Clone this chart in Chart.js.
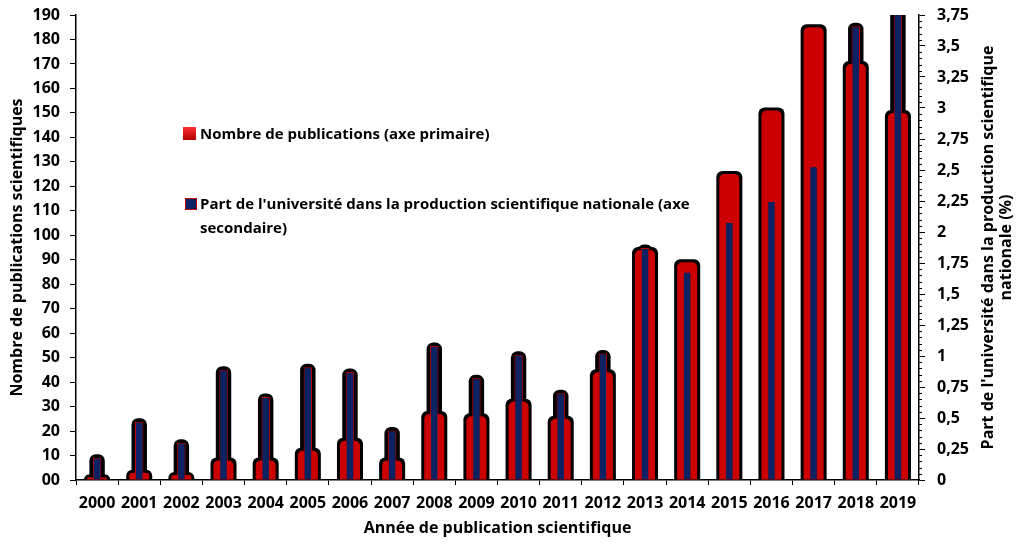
<!DOCTYPE html>
<html lang="fr">
<head>
<meta charset="utf-8">
<title>Publications scientifiques 2000-2019</title>
<script src="https://cdn.jsdelivr.net/npm/chart.js@4.4.1/dist/chart.umd.min.js"></script>
<style>
    html, body { margin: 0; padding: 0; background: #fff; }
    #wrap { position: relative; width: 1019px; height: 544px; }
    #legend { position: absolute; left: 183px; top: 0; font: bold 15px "Open Sans", sans-serif; color: #000; }
    #legend .item { position: absolute; white-space: nowrap; line-height: 24px; }
    #legend .sw { position: absolute; display: block; }
    #legend .red { width: 13px; height: 13px; background: linear-gradient(#ff3030, #b00000); }
    #legend .blue { width: 10px; height: 10px; background: #0d2263; border: 1px solid #c00000; }
</style>
</head>
<body>
<div id="wrap">
    <canvas id="pubChart"></canvas>
    <div id="legend">
        <div class="item" style="top:121px; left:0;">
            <span class="sw red" style="left:0; top:6px;"></span>
            <span style="padding-left:17px;">Nombre de publications (axe primaire)</span>
        </div>
        <div class="item" style="top:191px; left:0;">
            <span class="sw blue" style="left:2px; top:7px;"></span>
            <span style="display:inline-block; padding-left:17px;">Part de l'université dans la production scientifique nationale (axe<br>secondaire)</span>
        </div>
    </div>
</div>
<script>
const years = ['2000', '2001', '2002', '2003', '2004', '2005', '2006', '2007', '2008', '2009',
               '2010', '2011', '2012', '2013', '2014', '2015', '2016', '2017', '2018', '2019'];
const publications = [1, 3, 2, 8, 8, 12, 16, 8, 27, 26, 32, 25, 44, 94, 89, 125, 151, 185, 170, 150];
const partNationale = [0.18, 0.47, 0.30, 0.89, 0.67, 0.91, 0.87, 0.40, 1.08, 0.82,
                       1.01, 0.70, 1.02, 1.87, 1.68, 2.08, 2.25, 2.53, 3.66, 3.8];
const primaryMax = 190;
const primaryStep = 10;
const secondaryMax = 3.75;
const secondaryStep = 0.25;
const secondaryMinorStep = 0.05;

const rightTitle = ["Part de l'université dans la production scientifique", 'nationale (%)'];

Chart.defaults.font.family = '"Open Sans", sans-serif';
Chart.defaults.font.weight = 'bold';
Chart.defaults.color = '#000';

// black halo behind every bar, drawn before the fills
const barHalo = {
    id: 'barHalo',
    beforeDatasetsDraw(chart) {
        const ctx = chart.ctx;
        const area = chart.chartArea;
        ctx.save();
        ctx.beginPath();
        ctx.rect(area.left, area.top, area.right - area.left, area.bottom - area.top);
        ctx.clip();
        ctx.fillStyle = '#000';
        chart.data.datasets.forEach((ds, i) => {
            const h = ds.halo;
            chart.getDatasetMeta(i).data.forEach(bar => {
                const p = bar.getProps(['x', 'y', 'base', 'width'], true);
                ctx.beginPath();
                ctx.roundRect(p.x - p.width / 2 - h, p.y - h, p.width + 2 * h, p.base - p.y + h, [h + 3, h + 3, 0, 0]);
                ctx.fill();
            });
        });
        ctx.restore();
    }
};

// minor ticks of the secondary axis and its title (reads bottom to top)
const rightAxisExtras = {
    id: 'rightAxisExtras',
    afterDraw(chart) {
        const ctx = chart.ctx;
        const s = chart.scales.y2;
        ctx.save();
        ctx.strokeStyle = '#000';
        ctx.lineWidth = 1;
        for (let k = 0; k * secondaryMinorStep <= secondaryMax + 1e-9; k++) {
            if (k % 5 === 0) continue;
            const py = Math.round(s.getPixelForValue(k * secondaryMinorStep)) + 0.5;
            ctx.beginPath();
            ctx.moveTo(s.left, py);
            ctx.lineTo(s.left + 3, py);
            ctx.stroke();
        }
        const cy = (chart.chartArea.top + chart.chartArea.bottom) / 2;
        ctx.translate(s.right - 31, cy);
        ctx.rotate(-Math.PI / 2);
        ctx.fillStyle = '#000';
        ctx.font = 'bold 16px "Open Sans", sans-serif';
        ctx.textAlign = 'center';
        ctx.textBaseline = 'middle';
        ctx.fillText(rightTitle[0], 0, 0);
        ctx.fillText(rightTitle[1], 0, 18);
        ctx.restore();
    }
};

const fitVertical = width => s => {
    s.width = width;
    s.paddingTop = 0;
    s.paddingBottom = 0;
};

const ctxPub = document.getElementById('pubChart').getContext('2d');
new Chart(ctxPub, {
    type: 'bar',
    data: {
        labels: years,
        datasets: [{
            label: 'Nombre de publications (axe primaire)',
            data: publications,
            yAxisID: 'y',
            backgroundColor: '#cc0000',
            borderWidth: 0,
            borderRadius: { topLeft: 5, topRight: 5 },
            barPercentage: 0.475,
            categoryPercentage: 1,
            halo: 3,
            order: 2,
            clip: 0
        }, {
            label: "Part de l'université dans la production scientifique nationale (axe secondaire)",
            data: partNationale,
            yAxisID: 'y2',
            backgroundColor: '#0d2263',
            borderColor: '#c00000',
            borderWidth: { left: 1, right: 1, top: 1 },
            barPercentage: 0.2,
            categoryPercentage: 1,
            halo: 3.5,
            order: 1,
            clip: 0
        }]
    },
    options: {
        responsive: true,
        maintainAspectRatio: false,
        animation: false,
        layout: { padding: { top: 15 } },
        datasets: { bar: { grouped: false } },
        plugins: {
            legend: { display: false },
            tooltip: { enabled: false }
        },
        scales: {
            x: {
                grid: { offset: true, drawOnChartArea: false, tickLength: 5, color: '#000' },
                border: { color: '#000', width: 1.5 },
                ticks: { font: { size: 16 }, padding: 9, maxRotation: 0 },
                title: { display: true, text: 'Année de publication scientifique', font: { size: 16 }, padding: { top: 0, bottom: 6 } },
                afterFit: s => { s.height = 64; }
            },
            y: {
                position: 'left',
                min: 0,
                max: primaryMax,
                grid: { drawOnChartArea: false, tickLength: 6, color: '#000' },
                border: { color: '#000', width: 1.5 },
                ticks: {
                    stepSize: primaryStep,
                    font: { size: 16 },
                    padding: 10,
                    callback: v => v === 0 ? '00' : v
                },
                title: { display: true, text: 'Nombre de publications scientifiques', font: { size: 16 }, padding: { top: 8, bottom: 0 } },
                afterFit: fitVertical(76)
            },
            y2: {
                position: 'right',
                min: 0,
                max: secondaryMax,
                grid: { drawOnChartArea: false, tickLength: 6, color: '#000' },
                border: { color: '#000', width: 1.5 },
                ticks: {
                    stepSize: secondaryStep,
                    font: { size: 16 },
                    padding: 12,
                    callback: v => String(v).replace('.', ',')
                },
                afterFit: fitVertical(100)
            }
        }
    },
    plugins: [barHalo, rightAxisExtras]
});
</script>
</body>
</html>
